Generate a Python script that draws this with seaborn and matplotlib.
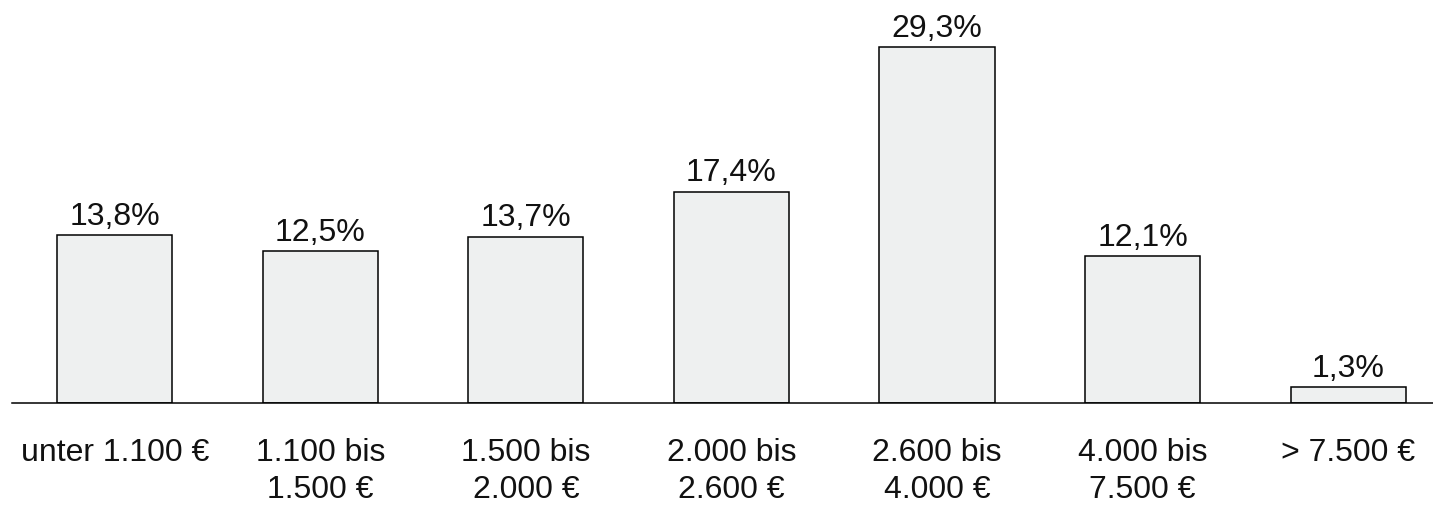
import matplotlib
matplotlib.use("Agg")
import matplotlib.pyplot as plt
import seaborn as sns
import pandas as pd

# Income brackets and share of households per bracket (%)
categories = ["unter 1.100 €", "1.100 bis\n1.500 €", "1.500 bis\n2.000 €",
              "2.000 bis\n2.600 €", "2.600 bis\n4.000 €", "4.000 bis\n7.500 €",
              "> 7.500 €"]
shares = [13.8, 12.5, 13.7, 17.4, 29.3, 12.1, 1.3]

df = pd.DataFrame({"kategorie": categories, "anteil": shares})

sns.set_theme(style="white")
plt.rcParams["font.family"] = ["Liberation Sans", "DejaVu Sans"]

fig = plt.figure(figsize=(14.33, 5.08), dpi=100)
ax = fig.add_axes([12 / 1433, 105 / 508, 1 - 12 / 1433, 403 / 508])

sns.barplot(data=df, x="kategorie", y="anteil", color="#eef0f0",
            saturation=1, edgecolor="black", linewidth=1.1, width=0.56, ax=ax)

ax.set_xlim(-0.5, 6.413)
ax.set_ylim(0, 33.17)

labels = [f"{v:.1f}".replace(".", ",") + "%" for v in shares]
ax.bar_label(ax.containers[0], labels=labels, padding=2.5, fontsize=23, color="#111111")

for side in ("top", "right", "left"):
    ax.spines[side].set_visible(False)
ax.spines["bottom"].set_color("black")
ax.spines["bottom"].set_linewidth(1.1)

ax.set_yticks([])
ax.set_xlabel("")
ax.set_ylabel("")
ax.tick_params(axis="x", length=0, pad=25, labelsize=23, labelcolor="#111111")
for t in ax.get_xticklabels():
    t.set_linespacing(1.3)

fig.savefig("out.png", dpi=100, facecolor="white")
